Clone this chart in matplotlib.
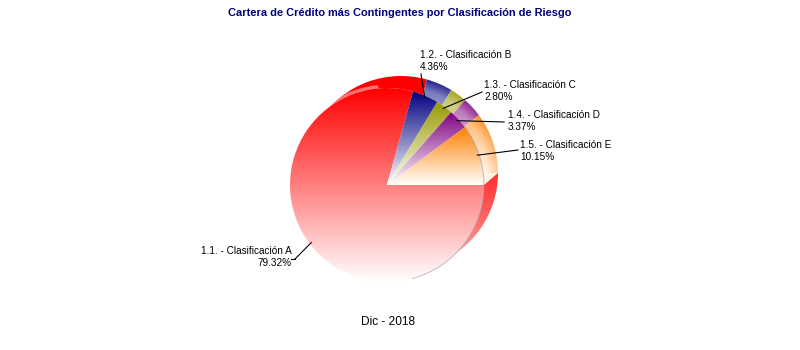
import matplotlib
matplotlib.use('Agg')
import matplotlib.pyplot as plt
import matplotlib.colors as mcolors
import matplotlib.patches as patches
import numpy as np

# Datos
categorias = ['1.1. - Clasificación A', '1.2. - Clasificación B', '1.3. - Clasificación C',
              '1.4. - Clasificación D', '1.5. - Clasificación E']
porcentajes = [79.32, 4.36, 2.80, 3.37, 10.15]
colores = ['#ff0000', '#000080', '#999900', '#800080', '#ff8000']
titulo = 'Cartera de Crédito más Contingentes por Clasificación de Riesgo'
periodo = 'Dic - 2018'

# Posiciones de las etiquetas (pixeles, x, y superior) y alineación
pos_etiquetas = [(292, 246, 'right'), (420, 50, 'left'), (484, 80, 'left'),
                 (508, 110, 'left'), (520, 140, 'left')]
fin_lineas = [(295, 259), (421, 74), (482, 92), (504, 122), (518, 150)]

W, H = 800, 350
inicio = 0
centro = (387, H - 185)
radio = 97
desplazamiento = (14, 12)


def gradiente(ax, wedge, color, base=0.0, kv=1.0, pv=1.0, kr=0.0, z=1):
    # Degradado: color arriba, blanco abajo (y opcionalmente hacia el centro)
    t = np.linspace(np.radians(wedge.theta1), np.radians(wedge.theta2), 100)
    cx, cy = wedge.center
    xs = np.r_[cx, cx + wedge.r * np.cos(t)]
    ys = np.r_[cy, cy + wedge.r * np.sin(t)]
    x0, x1, y0, y1 = xs.min(), xs.max(), ys.min(), ys.max()
    gx, gy = np.meshgrid(np.linspace(x0, x1, 200), np.linspace(y0, y1, 200))
    tv = (y1 - gy) / max(y1 - y0, 1)
    rho = np.hypot(gx - cx, gy - cy) / wedge.r
    f = base + kv * tv ** pv + kr * np.clip((1.0 - rho) / 0.12, 0, 1)
    f = np.clip(f, 0, 1)[..., None]
    rgb = np.array(mcolors.to_rgb(color))
    img = rgb * (1 - f) + f
    im = ax.imshow(img, extent=(x0, x1, y0, y1), origin='lower',
                   aspect='auto', interpolation='bilinear', zorder=z)
    im.set_clip_path(wedge)


fig = plt.figure(figsize=(W / 100, H / 100), dpi=100)
ax = fig.add_axes([0, 0, 1, 1])

# Capa trasera (profundidad)
centro_atras = (centro[0] + desplazamiento[0], centro[1] + desplazamiento[1])
atras, _ = ax.pie(porcentajes, colors=colores, startangle=inicio, counterclock=False,
                  radius=radio, center=centro_atras, frame=True)
for i, (w, c) in enumerate(zip(atras, colores)):
    w.set_facecolor('none')
    w.set_edgecolor('none')
    if i == 0:
        gradiente(ax, w, c, kv=0.75, pv=2.0, z=1)
    else:
        gradiente(ax, w, c, base=0.12, kv=0.5, kr=0.3, z=1)

# Brillo en el canto superior izquierdo
brillo = patches.Arc(centro, 2 * radio + 3, 2 * radio + 3, theta1=95, theta2=150,
                     edgecolor='#ffa0a0', linewidth=2.5, alpha=0.7, zorder=1.6)
ax.add_patch(brillo)
brillo.set_clip_path(atras[0])

# Cara lateral del borde recto de la última porción
a = np.radians(inicio)
cara = patches.Polygon([centro,
                        (centro[0] + radio * np.cos(a), centro[1] + radio * np.sin(a)),
                        (centro_atras[0] + radio * np.cos(a), centro_atras[1] + radio * np.sin(a)),
                        centro_atras],
                       closed=True, facecolor='#fff3e8', edgecolor='none', zorder=1.5)
ax.add_patch(cara)

# Capa frontal
circulo = plt.Circle(centro, radio, facecolor='white', edgecolor='none', zorder=2)
ax.add_patch(circulo)
frente, _ = ax.pie(porcentajes, colors=colores, startangle=inicio, counterclock=False,
                   radius=radio, center=centro, frame=True)
for w, c in zip(frente, colores):
    w.set_facecolor('none')
    w.set_edgecolor('none')
    gradiente(ax, w, c, kv=1.0, z=3)
borde = patches.Arc(centro, 2 * radio, 2 * radio, theta1=-75, theta2=40,
                    edgecolor=(0.6, 0.6, 0.65, 0.7), linewidth=0.6, zorder=4)
ax.add_patch(borde)

# Etiquetas y líneas guía
for w, cat, pct, (tx, ty, ha), (lx, ly) in zip(frente, categorias, porcentajes,
                                                pos_etiquetas, fin_lineas):
    ang = np.radians((w.theta1 + w.theta2) / 2)
    px = w.center[0] + 0.98 * w.r * np.cos(ang)
    py = w.center[1] + 0.98 * w.r * np.sin(ang)
    ax.plot([px, lx], [py, H - ly], color='black', linewidth=0.8, zorder=5)
    if ha == 'right':
        ax.plot([lx, lx - 4], [H - ly, H - ly], color='black', linewidth=0.8, zorder=5)
    ax.text(tx, H - ty, f'{cat}\n{pct:.2f}%', ha=ha, va='top', fontsize=7.2,
            family='Liberation Sans', linespacing=1.2, zorder=6)

ax.text(400, H - 13, titulo, ha='center', va='center', fontsize=7.9,
        fontweight='bold', color='#000080', family='Liberation Sans')
ax.text(388, H - 322, periodo, ha='center', va='center', fontsize=8.6,
        family='Liberation Sans')

ax.set_xlim(0, W)
ax.set_ylim(0, H)
ax.set_aspect('auto')
ax.axis('off')

fig.savefig('out.png', dpi=100)
